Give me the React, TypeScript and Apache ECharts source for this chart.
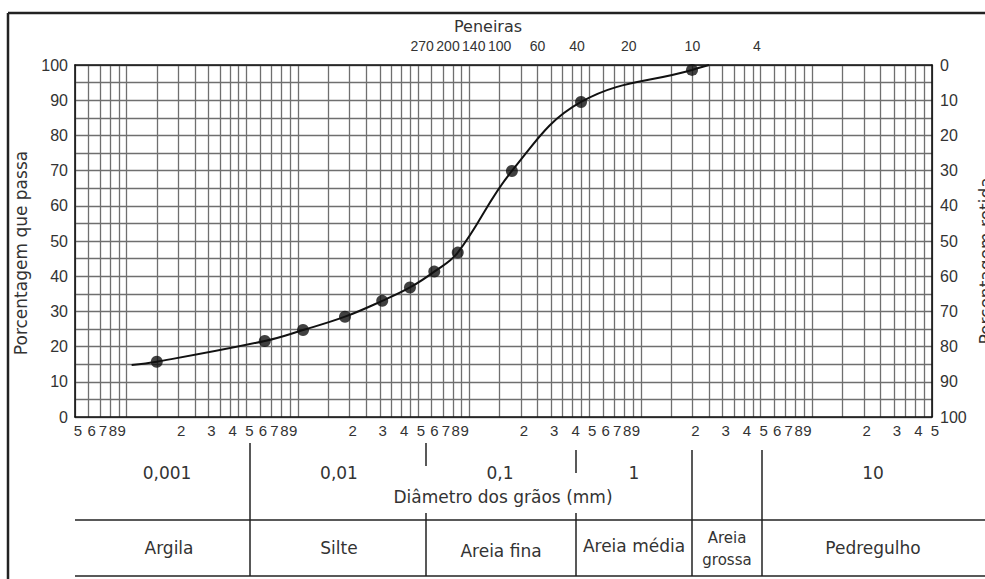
import React, { useEffect, useRef } from "react";
import * as echarts from "echarts";

// ---- Data ----
const diametersMm = [0.0015, 0.0064, 0.0107, 0.0188, 0.031, 0.045, 0.0624, 0.0855, 0.177, 0.448, 1.99];
const percentPassing = [15.7, 21.6, 24.7, 28.5, 33.0, 36.8, 41.3, 46.7, 69.9, 89.5, 98.6];
const curveStartDiameter = 0.00107;
const curveStartPercent = 14.8;
const curveEndDiameter = 2.5;
const curveEndPercent = 100;

const sieveNumbers = ["270", "200", "140", "100", "60", "40", "20", "10", "4"];
const sieveOpeningsMm = [0.053, 0.075, 0.106, 0.15, 0.25, 0.425, 0.85, 2.0, 4.75];

const decadeStarts = [0.0001, 0.001, 0.01, 0.1, 1, 10];
const tickDigits = [2, 3, 4, 5, 6, 7, 8, 9];
const gridDigits = [1, 1.5, 2, 2.5, 3, 3.5, 4, 4.5, 5, 6, 7, 8, 9];
const xMinMm = 0.0005;
const xMaxMm = 50;

const passingTicks = [0, 10, 20, 30, 40, 50, 60, 70, 80, 90, 100];
const retainedTicks = [0, 10, 20, 30, 40, 50, 60, 70, 80, 90, 100];

const decadeLabels = ["0,001", "0,01", "0,1", "1", "10"];
const soilClasses = ["Argila", "Silte", "Areia fina", "Areia média", "Areia\ngrossa", "Pedregulho"];

// ---- helpers ----
const inRange = (d: number) => d >= xMinMm * (1 - 1e-9) && d <= xMaxMm * (1 + 1e-9);
const bottomLabelDiam: number[] = [];
const bottomLabelText: string[] = [];
decadeStarts.forEach((s) => {
  tickDigits.forEach((k) => {
    const d = s * k;
    if (inRange(d)) {
      bottomLabelDiam.push(d);
      bottomLabelText.push(String(k));
    }
  });
});
const gridDiam: number[] = [];
decadeStarts.forEach((s) => {
  gridDigits.forEach((k) => {
    const d = s * k;
    if (inRange(d)) gridDiam.push(d);
  });
});
const L = (d: number) => Math.log10(d);
const nearest = (arr: number[], v: number) => {
  let best = 0;
  let bd = Infinity;
  arr.forEach((a, i) => {
    const dd = Math.abs(a - v);
    if (dd < bd) {
      bd = dd;
      best = i;
    }
  });
  return best;
};

const bottomLogs = bottomLabelDiam.map(L);
const sieveLogs = sieveOpeningsMm.map(L);
const gridLogs = gridDiam.map(L);

const NUM_FONT = "Liberation Sans, Arial, sans-serif";
const TXT_FONT = "DejaVu Sans, sans-serif";
const INK = "#222";
const GRID = "#6f6f6f";

export default function App() {
  const ref = useRef<HTMLDivElement>(null);
  useEffect(() => {
    if (!ref.current) return;
    const chart = echarts.init(ref.current, null, { renderer: "svg" });

    const curveData = [
      [L(curveStartDiameter), curveStartPercent],
      ...diametersMm.map((d, i) => [L(d), percentPassing[i]]),
      [L(curveEndDiameter), curveEndPercent],
    ];
    const pointData = diametersMm.map((d, i) => [L(d), percentPassing[i]]);

    const lineEl = (x1: number, y1: number, x2: number, y2: number, w = 1.5) => ({
      type: "line",
      shape: { x1, y1, x2, y2 },
      style: { stroke: INK, lineWidth: w },
      silent: true,
    });
    const textEl = (text: string, x: number, y: number, size = 17, lh?: number) => ({
      type: "text",
      x,
      y,
      style: {
        text,
        fill: "#333",
        fontSize: size,
        fontFamily: TXT_FONT,
        align: "center",
        verticalAlign: "middle",
        textAlign: "center",
        textVerticalAlign: "middle",
        lineHeight: lh,
      },
      silent: true,
    });

    const option: any = {
      animation: false,
      backgroundColor: "#fff",
      grid: { left: 75, top: 65, width: 857, height: 352, containLabel: false, outerBoundsMode: "none" },
      xAxis: [
        {
          type: "value",
          position: "bottom",
          min: L(xMinMm),
          max: L(xMaxMm),
          axisLine: { show: true, onZero: false, lineStyle: { color: "#111", width: 1.6 } },
          axisTick: { show: false, customValues: gridLogs },
          splitLine: { show: true, lineStyle: { color: GRID, width: 1.3 } },
          axisLabel: {
            customValues: bottomLogs,
            formatter: (v: number) => bottomLabelText[nearest(bottomLogs, v)],
            margin: 6,
            fontSize: 15,
            color: "#333",
            fontFamily: NUM_FONT,
            padding: [0, 0, 0, 6],
          },
        },
        {
          type: "value",
          position: "top",
          min: L(xMinMm),
          max: L(xMaxMm),
          name: "Peneiras",
          nameLocation: "middle",
          nameGap: 31,
          nameTextStyle: { fontSize: 16, color: "#333", fontFamily: TXT_FONT, padding: [0, 31, 0, 0] },
          axisLine: { show: true, onZero: false, lineStyle: { color: "#111", width: 1.6 } },
          axisTick: { show: false },
          splitLine: { show: false },
          axisLabel: {
            customValues: sieveLogs,
            formatter: (v: number) => sieveNumbers[nearest(sieveLogs, v)],
            margin: 12,
            fontSize: 14,
            color: "#333",
            fontFamily: "Liberation Sans Narrow, " + NUM_FONT,
          },
        },
      ],
      yAxis: [
        {
          type: "value",
          position: "left",
          min: 0,
          max: 100,
          interval: 5,
          name: "Porcentagem que passa",
          nameLocation: "middle",
          nameGap: 46,
          nameTextStyle: { fontSize: 17, color: "#333", fontFamily: TXT_FONT, padding: [0, 24, 0, 0] },
          axisLine: { show: true, onZero: false, lineStyle: { color: "#111", width: 1.6 } },
          axisTick: { show: false },
          splitLine: { show: true, lineStyle: { color: GRID, width: 1.3 } },
          axisLabel: {
            customValues: passingTicks,
            margin: 7,
            fontSize: 16,
            color: "#333",
            fontFamily: NUM_FONT,
            padding: [9, 0, 0, 0],
          },
        },
        {
          type: "value",
          position: "right",
          inverse: true,
          min: 0,
          max: 100,
          interval: 5,
          name: "Porcentagem retida",
          nameLocation: "middle",
          nameGap: 41,
          nameTextStyle: { fontSize: 17, color: "#333", fontFamily: TXT_FONT, padding: [0, 40, 0, 0] },
          axisLine: { show: true, onZero: false, lineStyle: { color: "#111", width: 1.6 } },
          axisTick: { show: false },
          splitLine: { show: false },
          axisLabel: {
            customValues: retainedTicks,
            margin: 8,
            fontSize: 16,
            color: "#333",
            fontFamily: NUM_FONT,
            padding: [9, 0, 0, 0],
          },
        },
      ],
      series: [
        {
          name: "Curva granulométrica",
          type: "line",
          xAxisIndex: 0,
          yAxisIndex: 0,
          data: curveData,
          smooth: 0.4,
          symbol: "none",
          lineStyle: { color: "#111", width: 2 },
          z: 3,
        },
        {
          name: "Ensaios",
          type: "scatter",
          xAxisIndex: 0,
          yAxisIndex: 0,
          data: pointData,
          symbol: "circle",
          symbolSize: 12,
          itemStyle: { color: "#111" },
          z: 4,
        },
      ],
      graphic: {
        elements: [
          // outer frame (top and left edges)
          lineEl(8, 13, 985, 13, 2.5),
          lineEl(8, 13, 8, 579, 2.5),
          // table lines
          lineEl(75, 520, 985, 520),
          lineEl(75, 576, 985, 576),
          lineEl(250, 443, 250, 576),
          lineEl(426, 443, 426, 466),
          lineEl(426, 513, 426, 576),
          lineEl(576, 450, 576, 473),
          lineEl(576, 513, 576, 576),
          lineEl(692, 450, 692, 576),
          lineEl(762, 450, 762, 576),
          // decade labels
          textEl(decadeLabels[0], 167, 473),
          textEl(decadeLabels[1], 339, 473),
          textEl(decadeLabels[2], 500, 473),
          textEl(decadeLabels[3], 634, 473),
          textEl(decadeLabels[4], 873, 473),
          textEl("Diâmetro dos grãos (mm)", 503, 497),
          // soil classes
          textEl(soilClasses[0], 169, 548),
          textEl(soilClasses[1], 339, 548),
          textEl(soilClasses[2], 501, 551),
          textEl(soilClasses[3], 634, 546),
          textEl(soilClasses[4], 727, 549, 15, 22),
          textEl(soilClasses[5], 873, 548),
        ],
      },
    };
    chart.setOption(option);
    return () => chart.dispose();
  }, []);
  return (
    <div
      ref={ref}
      style={{ position: "absolute", left: 0, top: 0, width: 985, height: 579, background: "#fff" }}
    />
  );
}
